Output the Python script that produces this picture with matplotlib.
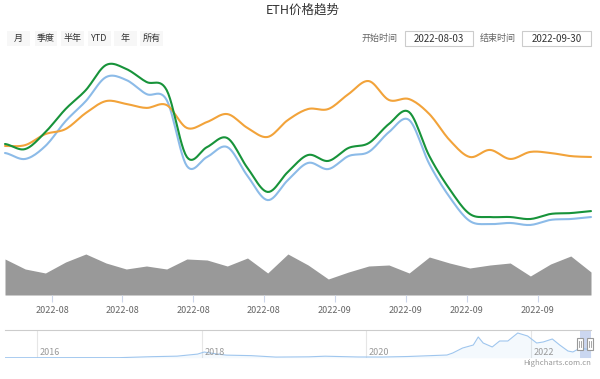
import numpy as np
import matplotlib
matplotlib.use("Agg")
import matplotlib.pyplot as plt
from matplotlib.patches import Rectangle

plt.rcParams['font.family'] = ['Noto Sans CJK SC', 'DejaVu Sans']

# price series, one value per point (Aug 3 .. Sep 30, 2022)
green = [1631, 1608, 1685, 1790, 1876, 1990, 1972, 1913, 1876, 1572,
         1617, 1658, 1522, 1413, 1504, 1581, 1554, 1613, 1635, 1722,
         1776, 1576, 1426, 1313, 1299, 1299, 1290, 1313, 1317, 1326]
blue = [1590, 1563, 1622, 1735, 1826, 1935, 1922, 1858, 1831, 1531,
        1572, 1617, 1486, 1376, 1467, 1545, 1517, 1576, 1595, 1685,
        1740, 1540, 1390, 1281, 1267, 1272, 1263, 1286, 1290, 1299]
orange = [1622, 1626, 1676, 1699, 1772, 1826, 1813, 1795, 1808, 1704,
          1731, 1767, 1704, 1663, 1740, 1790, 1790, 1858, 1917, 1831,
          1835, 1767, 1649, 1572, 1604, 1563, 1595, 1590, 1576, 1572]
volume = [36, 26, 22, 33, 41, 32, 26, 29, 26, 36, 35, 29, 37, 22, 41,
          30, 16, 23, 29, 30, 22, 38, 32, 27, 30, 32, 19, 31, 39, 23]
tick_labels = ["2022-08"] * 4 + ["2022-09"] * 4

# navigator (full history)
nav_years = [2015.61, 2016.0, 2016.5, 2017.0, 2017.4, 2017.7, 2017.95, 2018.03,
             2018.15, 2018.3, 2018.6, 2018.9, 2019.3, 2019.5, 2019.9, 2020.2,
             2020.5, 2020.75, 2020.98, 2021.05, 2021.17, 2021.30, 2021.36,
             2021.42, 2021.53, 2021.62, 2021.72, 2021.84, 2021.96, 2022.07,
             2022.15, 2022.26, 2022.35, 2022.45, 2022.51, 2022.60, 2022.73]
nav_prices = [1, 1, 12, 10, 200, 300, 700, 1100, 800, 500, 400, 120, 170, 290,
              140, 130, 230, 380, 520, 910, 1880, 2460, 4020, 2850, 2080, 3240,
              3240, 4790, 4210, 2850, 3050, 3630, 2460, 1300, 1110, 1880, 1490]
nav_years_marked = [2016, 2018, 2020, 2022]

buttons = ["月", "季度", "半年", "YTD", "年", "所有"]
start_date = "2022-08-03"
end_date = "2022-09-30"

W, H = 600, 379
fig = plt.figure(figsize=(6, 3.79), dpi=100)


def px_axes(x0, y0, x1, y1):
    return fig.add_axes([x0 / W, 1 - y1 / H, (x1 - x0) / W, (y1 - y0) / H])


def spline(vals, steps=12):
    v = np.asarray(vals, float)
    p = np.concatenate([[v[0]], v, [v[-1]]])
    xs, ys = [], []
    t = np.linspace(0, 1, steps, endpoint=False)
    for i in range(len(v) - 1):
        p0, p1, p2, p3 = p[i], p[i + 1], p[i + 2], p[i + 3]
        ys.append(0.5 * (2 * p1 + (-p0 + p2) * t + (2 * p0 - 5 * p1 + 4 * p2 - p3) * t ** 2
                         + (-p0 + 3 * p1 - 3 * p2 + p3) * t ** 3))
        xs.append(i + t)
    xs.append([len(v) - 1])
    ys.append([v[-1]])
    return np.concatenate(xs), np.concatenate(ys)


n = len(green)
idx = np.arange(n)

# main price lines
ax = px_axes(5, 50, 591, 240)
ax.axis('off')
for vals, col in [(blue, '#8cbbe8'), (orange, '#f2a33a'), (green, '#17933a')]:
    sx, sy = spline(vals)
    ax.plot(sx, sy, color=col, lw=1.5, clip_on=False, solid_capstyle='round')
ax.set_xlim(0, n - 1)
ax.set_ylim(1194.6, 2058.2)

# volume area
vax = px_axes(5, 245, 591, 295)
vax.fill_between(idx, volume, 0, color='#999999', lw=0)
vax.set_xlim(0, n - 1)
vax.set_ylim(0, 50)
for s in vax.spines.values():
    s.set_visible(False)
vax.set_yticks([])
tick_px = [52, 122, 193, 264, 335, 406, 467, 538]
vax.set_xticks([(p - 5) / 20.21 for p in tick_px])
vax.set_xticklabels(tick_labels)
vax.tick_params(axis='x', length=5, color='#ccd6eb', labelsize=6.5,
                labelcolor='#666666', pad=3)

# navigator
nav = px_axes(5, 330, 591, 358)
for k, s in nav.spines.items():
    s.set_visible(k == 'top')
nav.spines['top'].set_color('#cccccc')
nav.spines['top'].set_linewidth(0.8)
nav.set_xticks([])
nav.set_yticks([])
nav.set_xlim(2015.61, 2022.73)
nav.set_ylim(-58, 5374)
for yr in nav_years_marked:
    nav.axvline(yr, color='#e6e6e6', lw=0.8, zorder=0)
    nav.text(yr + 0.03, 0.18, str(yr), transform=nav.get_xaxis_transform(),
             fontsize=6.5, color='#999999', va='center', ha='left')
nav.fill_between(nav_years, nav_prices, 0, color='#7cb5ec', alpha=0.08, lw=0)
nav.plot(nav_years, nav_prices, color='#9fc6ee', lw=0.8)
nav.axvspan(2022.595, 2022.73, color='#c3d1ee', alpha=0.85, lw=0)
xt = nav.get_xaxis_transform()
for xc in (2022.595, 2022.715):
    nav.add_patch(Rectangle((xc - 0.035, 0.3), 0.07, 0.4, transform=xt,
                            fc='white', ec='#999999', lw=0.8, clip_on=False, zorder=5))
    for dx in (-0.012, 0.012):
        nav.plot([xc + dx, xc + dx], [0.4, 0.6], transform=xt, color='#999999',
                 lw=0.6, clip_on=False, zorder=6)

fig.text(591 / W, 1 - 363 / H, "Highcharts.com.cn", ha='right', va='center',
         fontsize=5.5, color='#999999')

# title
fig.text(303 / W, 1 - 10 / H, "ETH价格趋势", ha='center', va='center',
         fontsize=9, color='#333333')

# range buttons
btn_cx = [18, 46, 72, 99, 125.5, 151.5]
for label, cx in zip(buttons, btn_cx):
    fig.add_artist(Rectangle(((cx - 11.5) / W, 1 - 46 / H), 23 / W, 15 / H,
                             transform=fig.transFigure, fc='#f7f7f7', ec='none'))
    fig.text(cx / W, 1 - 38.5 / H, label, ha='center', va='center',
             fontsize=6.5, color='#333333')

# date inputs
for lab, lab_x, box_x0, box_x1, val in [("开始时间", 380, 405, 473, start_date),
                                         ("结束时间", 497.5, 522, 591, end_date)]:
    fig.text(lab_x / W, 1 - 38.5 / H, lab, ha='center', va='center',
             fontsize=6.5, color='#666666')
    fig.add_artist(Rectangle((box_x0 / W, 1 - 46 / H), (box_x1 - box_x0) / W, 15 / H,
                             transform=fig.transFigure, fc='white', ec='#cccccc', lw=0.8))
    fig.text((box_x0 + box_x1) / 2 / W, 1 - 38.5 / H, val, ha='center', va='center',
             fontsize=7, color='#333333')

fig.savefig("out.png", dpi=100)
